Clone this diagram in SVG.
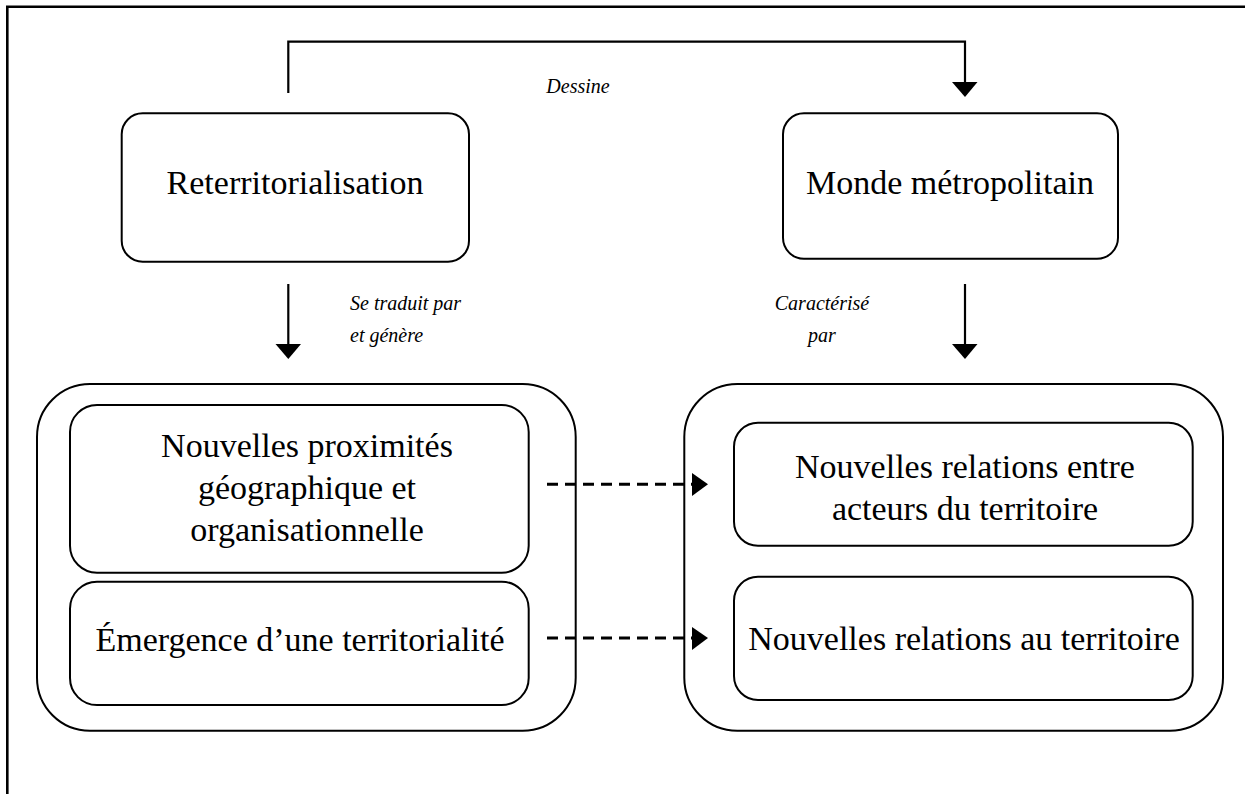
<svg xmlns="http://www.w3.org/2000/svg" width="1245" height="794" viewBox="0 0 1245 794">
<style>
.box{fill:#fff;stroke:#000;stroke-width:2}
.t{font-family:"Liberation Serif","Times New Roman",serif;font-size:34px;fill:#000;text-anchor:middle}
.l{font-family:"Liberation Serif","Times New Roman",serif;font-size:20px;font-style:italic;fill:#000}
.c{fill:none;stroke:#000;stroke-width:2.2}
.d{fill:none;stroke:#000;stroke-width:3;stroke-dasharray:11 7}
</style>
<g id="frame">
<path d="M7.3,794 L7.3,6.7 L1245,6.7" fill="none" stroke="#000" stroke-width="2.6"/>
</g>
<g id="reterritorialisation">
<rect class="box" x="121.7" y="113.3" width="347.3" height="148.4" rx="21" ry="21"/>
<text class="t" x="295" y="194">Reterritorialisation</text>
</g>
<g id="monde">
<rect class="box" x="783" y="113.3" width="335" height="145.5" rx="21" ry="21"/>
<text class="t" x="950" y="194">Monde métropolitain</text>
</g>
<g id="left-group">
<rect class="box" x="37" y="384" width="538.7" height="346.7" rx="53" ry="53"/>
<g id="proximites">
<rect class="box" x="70" y="405" width="458.7" height="167.7" rx="27" ry="27"/>
<text class="t" x="307" y="457">Nouvelles proximités</text>
<text class="t" x="307" y="499">géographique et</text>
<text class="t" x="307" y="541">organisationnelle</text>
</g>
<g id="emergence">
<rect class="box" x="70" y="581.7" width="458.7" height="123.3" rx="27" ry="27"/>
<text class="t" x="300" y="651">Émergence d’une territorialité</text>
</g>
</g>
<g id="right-group">
<rect class="box" x="684.3" y="384" width="538.7" height="346.7" rx="53" ry="53"/>
<g id="relations-acteurs">
<rect class="box" x="734" y="422.7" width="458.7" height="123" rx="24" ry="24"/>
<text class="t" x="965" y="478">Nouvelles relations entre</text>
<text class="t" x="965" y="520">acteurs du territoire</text>
</g>
<g id="relations-territoire">
<rect class="box" x="734" y="576.7" width="458.7" height="123.3" rx="24" ry="24"/>
<text class="t" x="964" y="650">Nouvelles relations au territoire</text>
</g>
</g>
<g id="connectors">
<path class="c" d="M288.3,93 L288.3,41.7 L965,41.7 L965,83"/>
<path d="M952,82 L977.5,82 L965,97 Z" fill="#000"/>
<path class="c" d="M288.3,284 L288.3,345"/>
<path d="M275.5,344 L301,344 L288.3,359 Z" fill="#000"/>
<path class="c" d="M965,284 L965,345"/>
<path d="M952,344 L977.5,344 L965,359 Z" fill="#000"/>
<path class="d" d="M547,484.3 L693,484.3"/>
<path d="M692,473 L708,484.3 L692,496 Z" fill="#000"/>
<path class="d" d="M547,638 L693,638"/>
<path d="M692,627 L708,638 L692,650 Z" fill="#000"/>
<text class="l" x="578" y="93" text-anchor="middle">Dessine</text>
<text class="l" x="350" y="310">Se traduit par</text>
<text class="l" x="350" y="342">et génère</text>
<text class="l" x="822" y="310" text-anchor="middle">Caractérisé</text>
<text class="l" x="822" y="342" text-anchor="middle">par</text>
</g>
</svg>
